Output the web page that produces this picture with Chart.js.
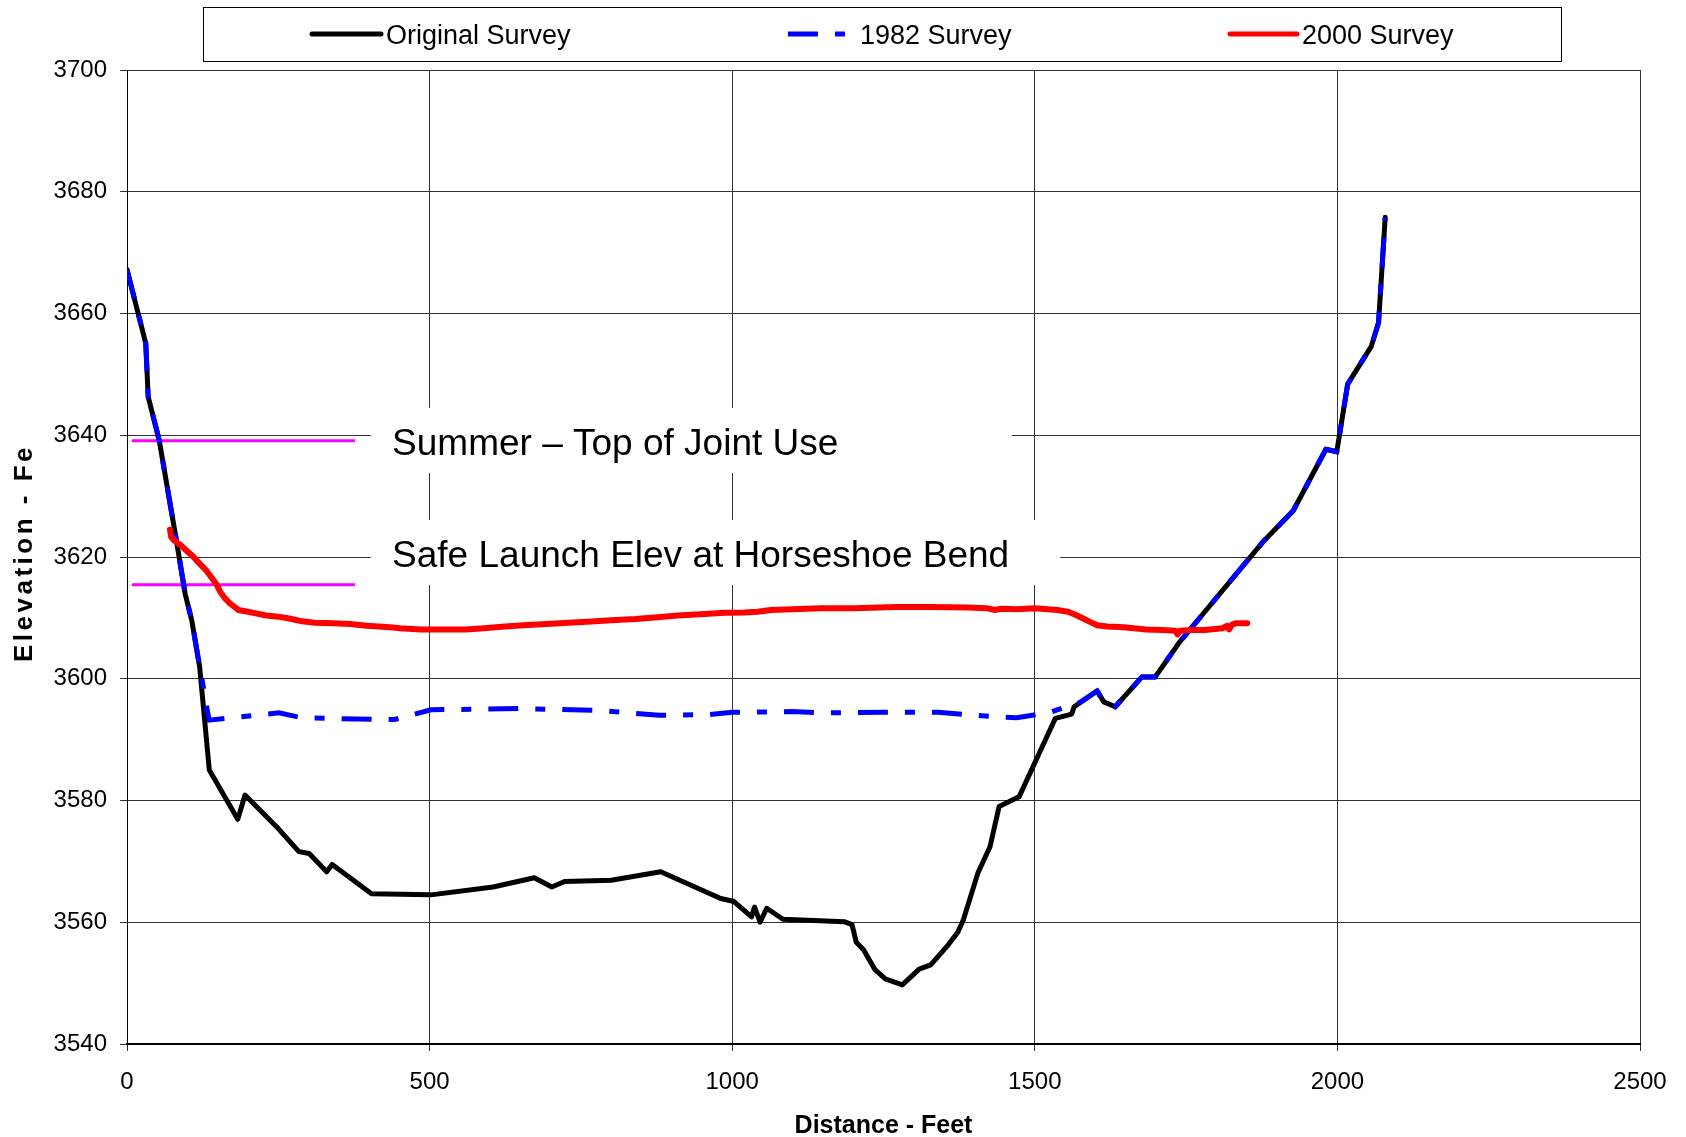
<!DOCTYPE html>
<html>
<head>
<meta charset="utf-8">
<script src="https://cdn.jsdelivr.net/npm/chart.js@4.4.1/dist/chart.umd.min.js"></script>
<style>
  html, body { margin: 0; padding: 0; background: #fff; }
  #wrap { position: relative; width: 1686px; height: 1137px; }
</style>
</head>
<body>
<div id="wrap"><canvas id="chart" width="1686" height="1137"></canvas></div>
<script>
// distance (ft) / elevation values
const origX = [0, 31, 35, 53, 82, 96, 107, 120, 136, 183, 195, 247, 284, 301, 330, 339, 404, 502, 605, 673,
  702, 723, 800, 882, 981, 1003, 1032, 1037, 1046, 1057, 1084, 1185, 1198, 1205, 1217, 1236, 1253, 1281, 1309, 1328,
  1357, 1373, 1382, 1406, 1426, 1441, 1474, 1534, 1561, 1565, 1603, 1614, 1633, 1677, 1699, 1739, 1878, 1927, 1981, 1999,
  2017, 2056, 2068, 2079];
const origY = [3667.2, 3655.1, 3646.3, 3639.3, 3622.5, 3614.0, 3609.6, 3602.0, 3585.0, 3576.9, 3580.9, 3575.7, 3571.6, 3571.3, 3568.3, 3569.5, 3564.7, 3564.5, 3565.8, 3567.3,
  3565.8, 3566.7, 3566.9, 3568.3, 3563.9, 3563.4, 3560.9, 3562.5, 3560.0, 3562.3, 3560.5, 3560.1, 3559.6, 3556.7, 3555.5, 3552.2, 3550.7, 3549.7, 3552.3, 3553.0,
  3556.3, 3558.4, 3560.4, 3568.1, 3572.4, 3579.0, 3580.6, 3593.5, 3594.2, 3595.4, 3598.0, 3596.2, 3595.4, 3600.3, 3600.3, 3606.0, 3622.6, 3627.6, 3637.7, 3637.3,
  3648.4, 3654.6, 3658.5, 3675.8];

const s1982X = [0, 31, 35, 53, 82, 96, 107, 120, 127, 133, 136, 251, 288, 420, 442, 502, 650, 780, 880, 960,
  1000, 1100, 1150, 1250, 1340, 1390, 1440, 1470, 1523, 1552, 1567, 1603, 1614, 1633, 1677, 1699, 1739, 1878, 1927, 1981,
  1999, 2017, 2056, 2068, 2079];
const s1982Y = [3667.2, 3655.1, 3646.3, 3639.3, 3622.5, 3614.0, 3609.6, 3602.0, 3598.2, 3594.6, 3593.2, 3594.4, 3593.6, 3593.3, 3593.3, 3594.9, 3595.1, 3594.8, 3594.0, 3594.1,
  3594.5, 3594.6, 3594.4, 3594.5, 3594.5, 3594.1, 3593.7, 3593.6, 3594.4, 3595.4, 3595.6, 3598.0, 3596.2, 3595.4, 3600.3, 3600.3, 3606.0, 3622.6, 3627.6, 3637.7,
  3637.3, 3648.4, 3654.6, 3658.5, 3675.8];

const s2000X = [71, 73, 77, 88, 99, 110, 118, 130, 140, 148, 154, 162, 170, 184, 200, 215, 230, 250, 268, 286,
  310, 341, 369, 396, 435, 451, 486, 520, 560, 590, 619, 655, 693, 730, 767, 800, 840, 877, 910, 947,
  988, 1020, 1042, 1064, 1100, 1146, 1200, 1271, 1330, 1390, 1420, 1434, 1445, 1470, 1500, 1537, 1555, 1567, 1580, 1592,
  1603, 1620, 1647, 1684, 1710, 1732, 1736, 1740, 1760, 1781, 1810, 1818, 1821, 1826, 1832, 1851];
const s2000Y = [3624.5, 3623.3, 3622.8, 3622.0, 3621.0, 3620.0, 3619.1, 3617.9, 3616.6, 3615.5, 3614.3, 3613.2, 3612.4, 3611.3, 3611.0, 3610.7, 3610.4, 3610.2, 3609.9, 3609.5,
  3609.2, 3609.1, 3609.0, 3608.7, 3608.45, 3608.3, 3608.1, 3608.1, 3608.1, 3608.3, 3608.55, 3608.8, 3609.0, 3609.2, 3609.4, 3609.6, 3609.8, 3610.1, 3610.4, 3610.6,
  3610.85, 3610.9, 3611.0, 3611.3, 3611.4, 3611.6, 3611.6, 3611.8, 3611.8, 3611.7, 3611.6, 3611.3, 3611.5, 3611.4, 3611.6, 3611.3, 3611.0, 3610.5, 3609.9, 3609.3,
  3608.8, 3608.6, 3608.45, 3608.1, 3608.0, 3607.9, 3607.3, 3607.9, 3608.0, 3608.0, 3608.3, 3608.7, 3608.1, 3608.9, 3609.1, 3609.1];

// reference levels (magenta marks)
const levelNames = ['Summer – Top of Joint Use', 'Safe Launch Elev at Horseshoe Bend'];
const levelValues = [3639.1, 3615.45];
const levelFrom = 8, levelTo = 377;

const FONT = "'Liberation Sans', Arial, sans-serif";
const pts = (xs, ys) => xs.map((x, i) => ({ x: x, y: ys[i] }));

// text boxes, in data units
const notes = [
  { text: levelNames[0], tx: 438, ty: 3636.8, x0: 403, x1: 1462, yTop: 3644.5, yBot: 3633.8 },
  { text: levelNames[1], tx: 438, ty: 3618.4, x0: 403, x1: 1542, yTop: 3626.1, yBot: 3615.4 }
];

const notesPlugin = {
  id: 'notes',
  beforeDatasetsDraw(chart) {
    const ctx = chart.ctx, xs = chart.scales.x, ys = chart.scales.y;
    ctx.save();
    notes.forEach(n => {
      const l = xs.getPixelForValue(n.x0), r = xs.getPixelForValue(n.x1);
      const t = ys.getPixelForValue(n.yTop), b = ys.getPixelForValue(n.yBot);
      ctx.fillStyle = '#fff';
      ctx.fillRect(l, t, r - l, b - t);
      ctx.fillStyle = '#000';
      ctx.font = '37px ' + FONT;
      ctx.textBaseline = 'alphabetic';
      ctx.textAlign = 'left';
      ctx.fillText(n.text, xs.getPixelForValue(n.tx), ys.getPixelForValue(n.ty));
    });
    ctx.restore();
  }
};

const legendItems = [
  { ds: 0, x0: 312, x1: 381, tx: 386 },
  { ds: 1, x0: 788, x1: 857, tx: 860 },
  { ds: 2, x0: 1230, x1: 1297, tx: 1302 }
];

const boxLegend = {
  id: 'boxLegend',
  afterDraw(chart) {
    const ctx = chart.ctx;
    ctx.save();
    ctx.fillStyle = '#fff';
    ctx.fillRect(203, 7, 1359, 55);
    ctx.strokeStyle = '#000';
    ctx.lineWidth = 1;
    ctx.strokeRect(203.5, 7.5, 1358, 54);
    legendItems.forEach(it => {
      const ds = chart.data.datasets[it.ds];
      ctx.beginPath();
      ctx.setLineDash(ds.borderDash || []);
      ctx.lineCap = ds.borderDash ? 'butt' : 'round';
      ctx.strokeStyle = ds.borderColor;
      ctx.lineWidth = 5;
      ctx.moveTo(it.x0, 34);
      ctx.lineTo(it.x1, 34);
      ctx.stroke();
      ctx.setLineDash([]);
      ctx.fillStyle = '#000';
      ctx.font = '27px ' + FONT;
      ctx.textBaseline = 'alphabetic';
      ctx.fillText(ds.label, it.tx, 44);
    });

    // y axis title (spaced letters)
    const area = chart.chartArea;
    ctx.translate(32, (area.top + area.bottom) / 2 - 4);
    ctx.rotate(-Math.PI / 2);
    ctx.font = 'bold 26px ' + FONT;
    ctx.letterSpacing = '3.5px';
    ctx.textAlign = 'center';
    ctx.fillStyle = '#000';
    ctx.fillText('Elevation - Fe', 0, 0);
    ctx.restore();
  }
};

const datasets = [
  { label: 'Original Survey', data: pts(origX, origY), borderColor: '#000000', borderWidth: 5, order: 2,
    borderJoinStyle: 'round', borderCapStyle: 'round' },
  { label: '1982 Survey', data: pts(s1982X, s1982Y), borderColor: '#0000ff', borderWidth: 5, order: 1,
    borderDash: [30, 17, 10, 17] },
  { label: '2000 Survey', data: pts(s2000X, s2000Y), borderColor: '#ff0000', borderWidth: 6, order: 0,
    borderJoinStyle: 'round', borderCapStyle: 'round' }
];
levelValues.forEach((v, i) => {
  datasets.push({ label: levelNames[i], data: [{ x: levelFrom, y: v }, { x: levelTo, y: v }],
    borderColor: '#ff00ff', borderWidth: 3, order: 5 });
});

const plain = v => String(v);

new Chart(document.getElementById('chart'), {
  type: 'line',
  data: { datasets: datasets },
  options: {
    responsive: false,
    animation: false,
    devicePixelRatio: 1,
    elements: { point: { radius: 0 }, line: { tension: 0 } },
    layout: { padding: { top: 70, right: 46, left: 0, bottom: 0 } },
    plugins: { legend: { display: false }, tooltip: { enabled: false } },
    scales: {
      x: {
        type: 'linear', min: 0, max: 2500,
        ticks: { stepSize: 500, color: '#000', font: { family: FONT, size: 24 }, padding: 17, callback: plain },
        grid: { color: '#333', lineWidth: 1, tickLength: 7 },
        border: { color: '#000', width: 2 },
        title: { display: true, text: 'Distance - Feet', color: '#000',
          font: { family: FONT, size: 25, weight: 'bold' }, padding: { top: 0, bottom: -4 } },
        afterFit(s) { s.height = 93; }
      },
      y: {
        min: 3540, max: 3700,
        ticks: { stepSize: 20, color: '#000', font: { family: FONT, size: 24 }, padding: 13, callback: plain },
        grid: { color: '#333', lineWidth: 1, tickLength: 7 },
        border: { color: '#000', width: 1 },
        afterFit(s) { s.width = 127; }
      }
    }
  },
  plugins: [notesPlugin, boxLegend]
});
</script>
</body>
</html>
